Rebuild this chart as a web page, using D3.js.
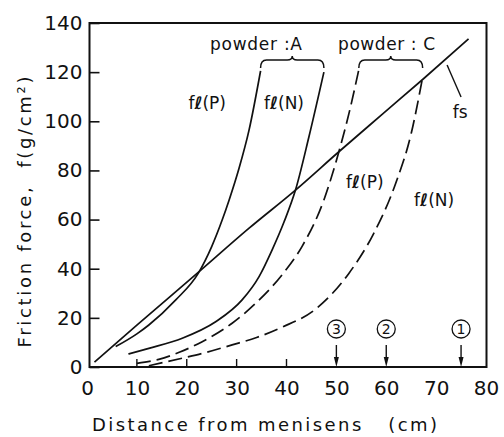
<!DOCTYPE html>
<html>
<head>
<meta charset="utf-8">
<script src="https://cdn.jsdelivr.net/npm/d3@7"></script>
<style>
  body { margin: 0; background: #fff; }
  text { font-family: "DejaVu Sans", sans-serif; fill: #111; }
</style>
</head>
<body>
<script>
// values: [distance (cm), friction force (g/cm2)]
var xTicks = [0, 10, 20, 30, 40, 50, 60, 70, 80];
var yTicks = [0, 20, 40, 60, 80, 100, 120, 140];
var xInnerTicks = [10, 20, 30, 40];
var markers = [{x: 50, label: "3"}, {x: 60, label: "2"}, {x: 75, label: "1"}];

var fs = [[1.5, 2], [10, 17], [22.3, 38.5], [32.5, 56.5], [41.8, 72], [50.5, 87.6], [59, 102.5], [67.3, 117], [76.5, 133.5]];
var flPA = [[5.75, 8.3], [10, 13.5], [12.4, 17.1], [17.8, 27.3], [22.3, 38.1], [25, 49], [27.1, 59.8], [28.5, 68], [30.5, 81], [32.5, 96.5], [34.8, 120.5]];
var flNA = [[8.3, 5.3], [12.4, 7.6], [19.1, 11.7], [25.8, 18.4], [31.1, 27.3], [34.5, 36.8], [37.1, 47.6], [39.5, 59], [41.8, 72], [44.5, 93.7], [47.5, 120]];
var flPC = [[10, 1.5], [14.4, 3.1], [18.5, 6], [23.1, 10.3], [29.1, 17.8], [33.8, 25.9], [39.1, 37.5], [43.1, 49], [47.5, 68], [50.5, 87.6], [52.5, 103], [54.5, 121]];
var flNC = [[12.4, 0.5], [19.1, 3.6], [24, 6], [29.1, 9], [34, 12], [39.1, 16.2], [45.8, 23.5], [52.5, 38.1], [57.5, 54.4], [61.9, 74.8], [65, 95], [67.3, 118]];

var width = 504, height = 437;

var svg = d3.select("body").append("svg")
    .attr("width", width)
    .attr("height", height);

var x = d3.scaleLinear().domain([0, 80]).range([87, 486]);
var y = d3.scaleLinear().domain([0, 140]).range([367, 23]);

var plotLeft = x(0) + 2.5, plotRight = x(80) + 0.5, plotTop = y(140), plotBottom = y(0);

// frame
svg.append("path")
    .attr("d", `M${plotLeft},${plotBottom}V${plotTop}H${plotRight}V${plotBottom}Z`)
    .attr("fill", "none")
    .attr("stroke", "#111")
    .attr("stroke-width", 2);

// y axis: inward ticks, labels on the left
var yAxis = d3.axisLeft(y).tickValues(yTicks).tickSize(-10).tickPadding(7);
var gy = svg.append("g")
    .attr("transform", `translate(${plotLeft}, 0)`)
    .call(yAxis);
gy.select(".domain").remove();
gy.selectAll("line").attr("stroke", "#111").attr("stroke-width", 1.6);
gy.selectAll("text").style("font-size", "20px").attr("font-family", null);

// x axis labels
var xAxis = d3.axisBottom(x).tickValues(xTicks).tickSize(0).tickPadding(14);
var gx = svg.append("g")
    .attr("transform", `translate(0, ${plotBottom})`)
    .call(xAxis);
gx.select(".domain").remove();
gx.selectAll("text").style("font-size", "20px").attr("font-family", null);

// small inner ticks on x
svg.selectAll(".xtick")
    .data(xInnerTicks)
    .enter().append("line")
    .attr("x1", d => x(d)).attr("x2", d => x(d))
    .attr("y1", plotBottom).attr("y2", plotBottom - 8)
    .attr("stroke", "#111")
    .attr("stroke-width", 1.4);

// curves
var line = d3.line()
    .x(d => x(d[0]))
    .y(d => y(d[1]))
    .curve(d3.curveMonotoneX);

var curves = [
    {data: fs, dash: null},
    {data: flPA, dash: null},
    {data: flNA, dash: null},
    {data: flPC, dash: "14,6"},
    {data: flNC, dash: "14,6"}
];
svg.selectAll(".curve")
    .data(curves)
    .enter().append("path")
    .attr("d", d => line(d.data))
    .attr("fill", "none")
    .attr("stroke", "#111")
    .attr("stroke-width", 1.7)
    .attr("stroke-dasharray", d => d.dash);

// braces over the powder groups
function brace(x1, x2) {
    var a = x(x1), b = x(x2), m = (a + b) / 2;
    var yb = 60, ye = 68, yt = 56;
    return `M${a},${ye}Q${a},${yb} ${a + 6},${yb}L${m - 5},${yb}Q${m},${yb} ${m},${yt}` +
        `Q${m},${yb} ${m + 5},${yb}L${b - 6},${yb}Q${b},${yb} ${b},${ye}`;
}
svg.append("path").attr("d", brace(34.8, 47.5))
    .attr("fill", "none").attr("stroke", "#111").attr("stroke-width", 1.5);
svg.append("path").attr("d", brace(54.5, 67.3))
    .attr("fill", "none").attr("stroke", "#111").attr("stroke-width", 1.5);

svg.append("text")
    .attr("x", 210).attr("y", 50)
    .attr("textLength", 92).attr("lengthAdjust", "spacing")
    .style("font-size", "17px")
    .text("powder :A");
svg.append("text")
    .attr("x", 338).attr("y", 50)
    .attr("textLength", 97).attr("lengthAdjust", "spacing")
    .style("font-size", "17px")
    .style("white-space", "pre")
    .text("powder : C");

// curve labels
function flLabel(cx, cy, sub) {
    var t = svg.append("text")
        .attr("x", x(cx)).attr("y", y(cy))
        .attr("text-anchor", "middle")
        .style("font-size", "17px");
    t.append("tspan").text("f");
    t.append("tspan").style("font-weight", "bold").style("font-style", "italic").text("\u2113");
    t.append("tspan").text("(" + sub + ")");
}
flLabel(24.1, 105, "P");
flLabel(39.5, 105, "N");
flLabel(55.7, 73, "P");
flLabel(69.6, 65.5, "N");

svg.append("text")
    .attr("x", x(74.8)).attr("y", y(101.3))
    .attr("text-anchor", "middle")
    .style("font-size", "17px")
    .text("fs");
svg.append("line")
    .attr("x1", x(72.2)).attr("y1", y(122.9))
    .attr("x2", x(75)).attr("y2", y(109.9))
    .attr("stroke", "#111").attr("stroke-width", 1.4);

// circled position markers with arrows
var mk = svg.selectAll(".marker")
    .data(markers)
    .enter().append("g")
    .attr("transform", d => `translate(${x(d.x)}, 0)`);
mk.append("circle")
    .attr("cx", 0).attr("cy", plotBottom - 38)
    .attr("r", 9)
    .attr("fill", "none").attr("stroke", "#111").attr("stroke-width", 1.3);
mk.append("text")
    .attr("x", 0).attr("y", plotBottom - 38)
    .attr("dy", "0.36em")
    .attr("text-anchor", "middle")
    .style("font-size", "14px")
    .text(d => d.label);
mk.append("line")
    .attr("x1", 0).attr("x2", 0)
    .attr("y1", plotBottom - 22).attr("y2", plotBottom - 8)
    .attr("stroke", "#111").attr("stroke-width", 1.4);
mk.append("path")
    .attr("d", `M-2.5,${plotBottom - 10}L2.5,${plotBottom - 10}L0,${plotBottom}Z`)
    .attr("fill", "#111");

// axis titles
svg.append("text")
    .attr("x", 92).attr("y", 431)
    .attr("textLength", 345).attr("lengthAdjust", "spacing")
    .style("font-size", "18px")
    .style("white-space", "pre")
    .text("Distance from menisens   (cm)");

svg.append("text")
    .attr("transform", "translate(31, 212) rotate(-90)")
    .attr("text-anchor", "middle")
    .attr("textLength", 271).attr("lengthAdjust", "spacing")
    .style("font-size", "18px")
    .style("white-space", "pre")
    .text("Friction force,  f(g/cm\u00b2)");
</script>
</body>
</html>
